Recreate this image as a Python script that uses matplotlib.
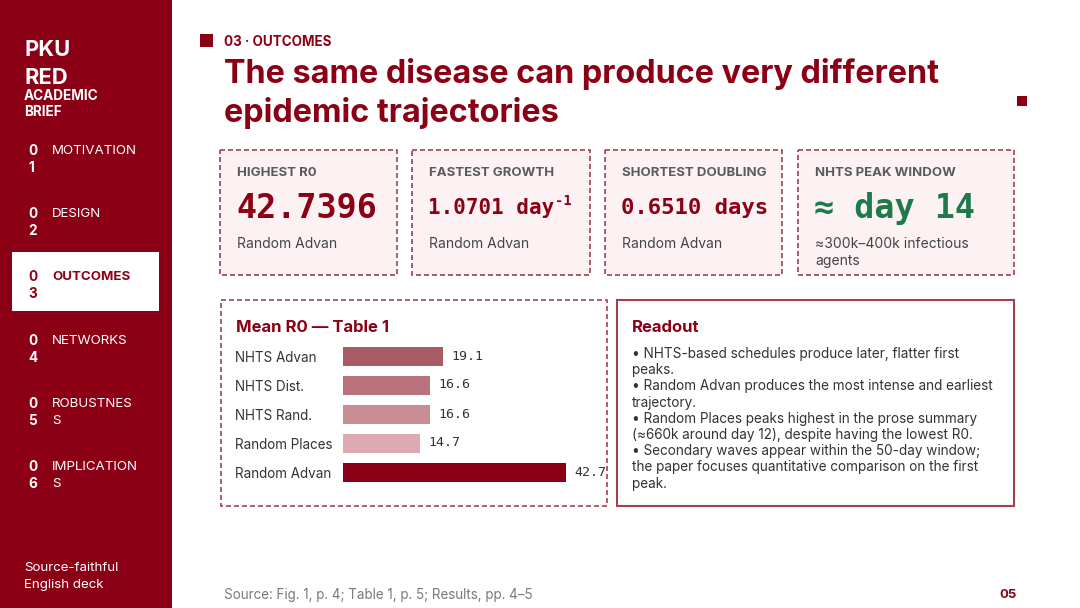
import matplotlib
matplotlib.use("Agg")
import matplotlib.pyplot as plt
from matplotlib.patches import Rectangle
from matplotlib.transforms import blended_transform_factory

plt.rcParams['font.family'] = ['Inter', 'DejaVu Sans']

# ---------------- data ----------------
nav_numbers = ["01", "02", "03", "04", "05", "06"]
nav_labels = [["MOTIVATION"], ["DESIGN"], ["OUTCOMES"], ["NETWORKS"],
              ["ROBUSTNES", "S"], ["IMPLICATION", "S"]]
active_nav = 2

kpi_labels = ["HIGHEST R0", "FASTEST GROWTH", "SHORTEST DOUBLING", "NHTS PEAK WINDOW"]
kpi_values = ["42.7396", "1.0701 day", "0.6510 days", "≈ day 14"]
kpi_sup = ["", "-1", "", ""]
kpi_subs = [["Random Advan"], ["Random Advan"], ["Random Advan"],
            ["≈300k–400k infectious", "agents"]]

bar_categories = ["NHTS Advan", "NHTS Dist.", "NHTS Rand.", "Random Places", "Random Advan"]
bar_values = [19.1, 16.6, 16.6, 14.7, 42.7]
bar_colors = ["#A85B65", "#B9727B", "#C98E94", "#DCAAB0", "#8C0015"]

readout_lines = [
    "• NHTS-based schedules produce later, flatter first",
    "peaks.",
    "• Random Advan produces the most intense and earliest",
    "trajectory.",
    "• Random Places peaks highest in the prose summary",
    "(≈660k around day 12), despite having the lowest R0.",
    "• Secondary waves appear within the 50-day window;",
    "the paper focuses quantitative comparison on the first",
    "peak.",
]

RED = "#8C0015"
BORDER = "#A3404F"
W, H = 1080, 608
DY = 1.5  # baseline correction for vertically centred text

fig = plt.figure(figsize=(W / 100, H / 100), dpi=100)
bg = fig.add_axes([0, 0, 1, 1])
bg.set_xlim(0, W)
bg.set_ylim(H, 0)
bg.axis("off")

# sidebar
bg.add_patch(Rectangle((0, 0), 172, H, facecolor=RED, edgecolor="none"))
bg.text(24, 49 + DY, "PKU", color="white", fontsize=15.8, fontweight="bold", va="center")
bg.text(24, 76.5 + DY, "RED", color="white", fontsize=15.8, fontweight="bold", va="center")
bg.text(24, 94 + DY, "ACADEMIC", color="white", fontsize=9.8, fontweight="bold", va="center")
bg.text(24, 110 + DY, "BRIEF", color="white", fontsize=9.8, fontweight="bold", va="center")

nav_y0, nav_dy = 149.5 + DY, 63.2
for i, (num, lab) in enumerate(zip(nav_numbers, nav_labels)):
    y = nav_y0 + i * nav_dy
    active = (i == active_nav)
    if active:
        bg.add_patch(Rectangle((12, 252), 147, 59, facecolor="white", edgecolor="none"))
    col = RED if active else "white"
    bg.text(28, y, num[0], color=col, fontsize=9.8, fontweight="bold", va="center", ha="left")
    bg.text(28, y + 17, num[1], color=col, fontsize=9.8, fontweight="bold", va="center", ha="left")
    for j, l in enumerate(lab):
        bg.text(52, y + 17 * j, l, color=col, fontsize=9.6,
                fontweight="bold" if active else "normal", va="center", ha="left")

bg.text(24, 566.5 + DY, "Source-faithful", color="white", fontsize=9.6, va="center")
bg.text(24, 583.5 + DY, "English deck", color="white", fontsize=9.6, va="center")

# header
bg.add_patch(Rectangle((200, 34), 13, 13, facecolor=RED, edgecolor="none"))
bg.text(224, 40.5 + DY, "03 · OUTCOMES", color=RED, fontsize=9.7, fontweight="bold", va="center")
bg.text(224, 72.5 + DY, "The same disease can produce very different", color=RED,
        fontsize=23.3, fontweight="bold", va="center")
bg.text(224, 111.5 + DY, "epidemic trajectories", color=RED, fontsize=23.3, fontweight="bold",
        va="center")
bg.add_patch(Rectangle((1017, 96), 10, 10, facecolor=RED, edgecolor="none"))

# KPI cards
cards_x = [(220, 397), (412, 590), (605, 782), (798, 1014)]
val_sizes = [24, 15, 16, 24]
val_colors = [RED, RED, RED, "#1E7A4C"]
dash = (0, (3, 1.8))
sup_texts = []
for k, (x0, x1) in enumerate(cards_x):
    bg.add_patch(Rectangle((x0, 150), x1 - x0, 125, facecolor="#FCF2F3", edgecolor=BORDER,
                           linewidth=1.2, linestyle=dash))
    bg.text(x0 + 17, 172 + DY, kpi_labels[k], color="#5A5A5A", fontsize=9.5, fontweight="bold",
            va="center")
    t = bg.text(x0 + 16, 207 + DY, kpi_values[k], color=val_colors[k], fontsize=val_sizes[k],
                fontweight="bold", family="DejaVu Sans Mono", va="center")
    if kpi_sup[k]:
        sup_texts.append((t, kpi_sup[k], val_colors[k]))
    for j, s in enumerate(kpi_subs[k]):
        bg.text(x0 + 17, 243 + DY + 16.5 * j, s, color="#444444", fontsize=10, va="center")

# superscripts placed after their base text
fig.canvas.draw()
renderer = fig.canvas.get_renderer()
inv = bg.transData.inverted()
for t, s, c in sup_texts:
    bb = t.get_window_extent(renderer)
    xr, _ = inv.transform((bb.x1, bb.y1))
    bg.text(xr + 1, 201, s, color=c, fontsize=10, fontweight="bold",
            family="DejaVu Sans Mono", va="center", ha="left")

# bar panel
bg.add_patch(Rectangle((221, 300), 386, 206, facecolor="white", edgecolor=BORDER,
                       linewidth=1.2, linestyle=dash))
bg.text(236, 326 + DY, "Mean R0 — Table 1", color=RED, fontsize=12, fontweight="bold",
        va="center")

bar_left, bar_right = 343, 566
row_h = 29
top = 341.5
n = len(bar_categories)
ax = fig.add_axes([bar_left / W, 1 - (top + n * row_h) / H,
                   (bar_right - bar_left) / W, n * row_h / H])
ax.set_facecolor("none")
ypos = list(range(n))
ax.barh(ypos, bar_values, height=19 / 29, color=bar_colors, edgecolor="none")
ax.set_xlim(0, max(bar_values))
ax.set_ylim(n - 0.5, -0.5)
ax.axis("off")
lab_tr = blended_transform_factory(bg.transData, ax.transData)
for yi, (cat, v) in enumerate(zip(bar_categories, bar_values)):
    ax.text(235, yi + 0.06, cat, transform=lab_tr, color="#333333", fontsize=9.7,
            va="center", ha="left")
    ax.annotate(f"{v:.1f}", xy=(v, yi), xytext=(6, 0), textcoords="offset points",
                color="#333333", fontsize=9.5, family="DejaVu Sans Mono",
                va="center", ha="left", annotation_clip=False)

# readout panel
bg.add_patch(Rectangle((617, 300), 397, 206, facecolor="white", edgecolor=BORDER,
                       linewidth=1.5))
bg.text(632, 326 + DY, "Readout", color=RED, fontsize=12, fontweight="bold", va="center")
for i, line in enumerate(readout_lines):
    bg.text(632, 352.5 + DY + 16.2 * i, line, color="#333333", fontsize=9.75, va="center")

# footer
bg.text(224, 593 + DY, "Source: Fig. 1, p. 4; Table 1, p. 5; Results, pp. 4–5", color="#7A7A7A",
        fontsize=9.7, va="center")
bg.text(1017, 593 + DY, "05", color=RED, fontsize=9.5, fontweight="bold", va="center",
        ha="right")

fig.savefig("out.png", dpi=100)
